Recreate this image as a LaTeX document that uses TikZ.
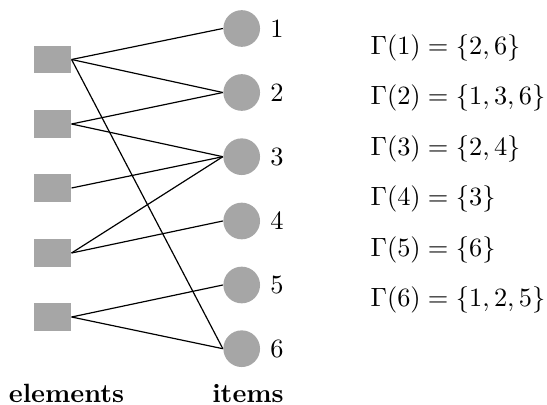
\documentclass[tikz,border=0pt]{standalone}
\begin{document}
\begin{tikzpicture}[x=0.379pt,y=-0.379pt,
  element/.style={rectangle, fill=black!35, minimum width=13.9pt, minimum height=10.5pt, inner sep=0pt},
  item/.style={circle, fill=black!35, minimum size=13.9pt, inner sep=0pt},
  itemlabel/.style={inner sep=0pt, anchor=center},
  neigh/.style={inner sep=0pt, anchor=west},
  link/.style={line width=0.45pt, black}]
  \useasboundingbox (0,0) rectangle (547,405);

  % elements (left column)
  \foreach \i/\y in {1/59.5,2/124,3/188,4/253,5/317}
    \node[element] (s\i) at (52.7,\y) {};

  % items (right column) with their numbers
  \foreach \i/\y in {1/28.5,2/92.5,3/156.7,4/221,5/285,6/348.7} {
    \node[item] (c\i) at (241.7,\y) {};
    \node[itemlabel] (n\i) at (277,\y) {\i};
  }

  % incidences
  \foreach \a/\b in {1/1,1/2,1/6,2/2,2/3,3/3,4/3,4/4,5/5,5/6}
    \draw[link] (s\a.east) -- (c\b.west);

  % column captions
  \node[anchor=base, inner sep=0pt] (lblel) at (66.5,402.5) {\textbf{elements}};
  \node[anchor=base, inner sep=0pt] (lblit) at (248,402.5) {\textbf{items}};

  % neighbourhoods
  \node[neigh] (g1) at (370,48)    {$\Gamma(1) = \{2,6\}$};
  \node[neigh] (g2) at (370,98.4)  {$\Gamma(2) = \{1,3,6\}$};
  \node[neigh] (g3) at (370,148.8) {$\Gamma(3) = \{2,4\}$};
  \node[neigh] (g4) at (370,199.2) {$\Gamma(4) = \{3\}$};
  \node[neigh] (g5) at (370,249.6) {$\Gamma(5) = \{6\}$};
  \node[neigh] (g6) at (370,300)   {$\Gamma(6) = \{1,2,5\}$};
\end{tikzpicture}
\end{document}
